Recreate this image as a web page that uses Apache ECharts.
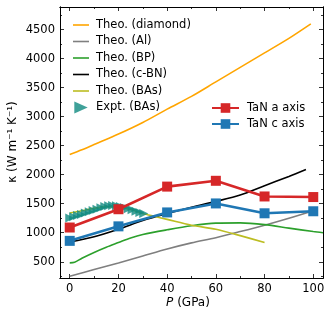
<!DOCTYPE html>
<html><head><meta charset="utf-8">
<script src="https://cdn.jsdelivr.net/npm/echarts@6/dist/echarts.min.js"></script>
<style>html,body{margin:0;padding:0;background:#fff}#c{width:333px;height:318px}</style>
</head><body><div id="c"></div>
<script>
// Data
const diamondP = [0, 5, 10, 20, 30, 40, 50, 60, 70, 80, 90, 99];
const diamondK = [2350, 2430, 2520, 2700, 2900, 3130, 3350, 3600, 3850, 4100, 4350, 4600];
const alP = [0, 10, 20, 30, 40, 50, 60, 70, 80, 90, 100];
const alK = [250, 365, 480, 600, 720, 825, 915, 1020, 1130, 1250, 1380];
const bpP = [0, 2, 5, 10, 15, 20, 25, 30, 40, 50, 60, 70, 80, 90, 100, 104];
const bpK = [480, 490, 560, 660, 750, 830, 910, 970, 1050, 1120, 1165, 1170, 1140, 1080, 1020, 1000];
const cbnP = [0, 10, 20, 30, 40, 50, 60, 70, 80, 90, 97];
const cbnK = [840, 930, 1060, 1210, 1330, 1440, 1540, 1650, 1810, 1970, 2090];
const basP = [0, 5, 10, 15, 20, 25, 30, 35, 40, 50, 60, 70, 80];
const basK = [1340, 1380, 1420, 1450, 1440, 1400, 1330, 1280, 1230, 1130, 1060, 950, 830];
const exptP = [0, 1.6, 3.2, 4.8, 6.4, 8, 9.6, 11.2, 12.8, 14.4, 16, 17.6, 19.2, 20.8, 22.4, 24, 25.6, 27.2, 28.8, 30.4];
const exptK = [1255, 1275, 1295, 1315, 1340, 1360, 1385, 1405, 1430, 1450, 1465, 1470, 1465, 1450, 1435, 1415, 1395, 1370, 1350, 1330];
const tanP = [0, 20, 40, 60, 80, 100];
const tanA = [1090, 1405, 1795, 1895, 1625, 1615];
const tanC = [860, 1110, 1350, 1505, 1335, 1370];
const xMajor = [0, 20, 40, 60, 80, 100];
const xMinor = [10, 30, 50, 70, 90];
const yMajor = [500, 1000, 1500, 2000, 2500, 3000, 3500, 4000, 4500];
const yMinor = [250, 750, 1250, 1750, 2250, 2750, 3250, 3750, 4250, 4750];

const pairs = (xs, ys) => xs.map((x, i) => [x, ys[i]]);
const FONT = 'DejaVu Sans';
const XMIN = -4, XMAX = 104, YMIN = 220, YMAX = 4890;
const LINE_ICON = 'path://M0,0L0,0M0,5.2L16,5.2L16,6.8L0,6.8ZM16,12L16,12';
const TRI_ICON = 'path://M0,0L10,4.5L0,9Z';

function xAx(pos, ticks, len, labels) {
  return {
    type: 'value', position: pos, min: XMIN, max: XMAX,
    axisLine: { show: true, onZero: false, lineStyle: { color: '#000', width: 1 } },
    axisTick: { show: true, inside: true, length: len, customValues: ticks, lineStyle: { color: '#000', width: 0.8 } },
    axisLabel: labels ? { show: true, customValues: ticks, formatter: v => String(v), color: '#000', fontFamily: FONT, fontSize: 11.5, margin: 5 } : { show: false },
    splitLine: { show: false }
  };
}
function yAx(pos, ticks, len, labels) {
  return {
    type: 'value', position: pos, min: YMIN, max: YMAX,
    axisLine: { show: true, onZero: false, lineStyle: { color: '#000', width: 1 } },
    axisTick: { show: true, inside: true, length: len, customValues: ticks, lineStyle: { color: '#000', width: 0.8 } },
    axisLabel: labels ? { show: true, customValues: ticks, formatter: v => String(v), color: '#000', fontFamily: FONT, fontSize: 11.5, margin: 5 } : { show: false },
    splitLine: { show: false }
  };
}
function theo(name, xs, ys, color) {
  return { name, type: 'line', data: pairs(xs, ys), symbol: 'none', smooth: 0.3,
    lineStyle: { color, width: 1.6 }, itemStyle: { color }, z: 2, animation: false };
}
function tan(name, ys, color) {
  return { name, type: 'line', data: pairs(tanP, ys), symbol: 'rect', symbolSize: 10,
    lineStyle: { color, width: 2.6 }, itemStyle: { color }, z: 4, animation: false };
}

const chart = echarts.init(document.getElementById('c'), null, { renderer: 'canvas' });
chart.setOption({
  animation: false,
  backgroundColor: '#fff',
  textStyle: { fontFamily: FONT },
  grid: { left: 60, right: 10, top: 7, bottom: 40, containLabel: false },
  xAxis: [xAx('bottom', xMajor, 4, true), xAx('bottom', xMinor, 2, false), xAx('top', xMajor, 4, false), xAx('top', xMinor, 2, false)],
  yAxis: [yAx('left', yMajor, 4, true), yAx('left', yMinor, 2, false), yAx('right', yMajor, 4, false), yAx('right', yMinor, 2, false)],
  legend: [
    { orient: 'vertical', left: 68, top: 14, itemWidth: 16, itemHeight: 12, itemGap: 4.5,
      textStyle: { fontFamily: FONT, fontSize: 11.5, color: '#000', padding: [0, 0, 0, 2] },
      data: [
        { name: 'Theo. (diamond)', icon: LINE_ICON },
        { name: 'Theo. (Al)', icon: LINE_ICON },
        { name: 'Theo. (BP)', icon: LINE_ICON },
        { name: 'Theo. (c-BN)', icon: LINE_ICON },
        { name: 'Theo. (BAs)', icon: LINE_ICON },
        { name: 'Expt. (BAs)', icon: TRI_ICON }
      ] },
    { orient: 'vertical', left: 206, top: 97, itemWidth: 27, itemHeight: 12, itemGap: 4,
      textStyle: { fontFamily: FONT, fontSize: 11.5, color: '#000', padding: [0, 0, 0, 3] },
      data: ['TaN a axis', 'TaN c axis'] }
  ],
  series: [
    theo('Theo. (diamond)', diamondP, diamondK, '#ffa500'),
    theo('Theo. (Al)', alP, alK, '#7f7f7f'),
    theo('Theo. (BP)', bpP, bpK, '#2ca02c'),
    theo('Theo. (c-BN)', cbnP, cbnK, '#000000'),
    theo('Theo. (BAs)', basP, basK, '#bcbd22'),
    { name: 'Expt. (BAs)', type: 'scatter', data: pairs(exptP, exptK), symbol: 'triangle', symbolRotate: -90,
      symbolSize: 9, itemStyle: { color: '#0f8a80' }, z: 3, animation: false },
    tan('TaN a axis', tanA, '#d62728'),
    tan('TaN c axis', tanC, '#1f77b4')
  ],
  graphic: [
    { type: 'text', x: 13, y: 142, rotation: Math.PI / 2,
      style: { text: 'κ (W m⁻¹ K⁻¹)', font: '12px "DejaVu Sans"', fill: '#000', align: 'center', verticalAlign: 'middle' } },
    { type: 'text', x: 188, y: 303,
      style: { text: '{i|P} (GPa)', rich: { i: { fontStyle: 'italic', fontFamily: FONT, fontSize: 12 } },
        font: '12px "DejaVu Sans"', fill: '#000', align: 'center', verticalAlign: 'middle' } }
  ]
});
</script></body></html>
